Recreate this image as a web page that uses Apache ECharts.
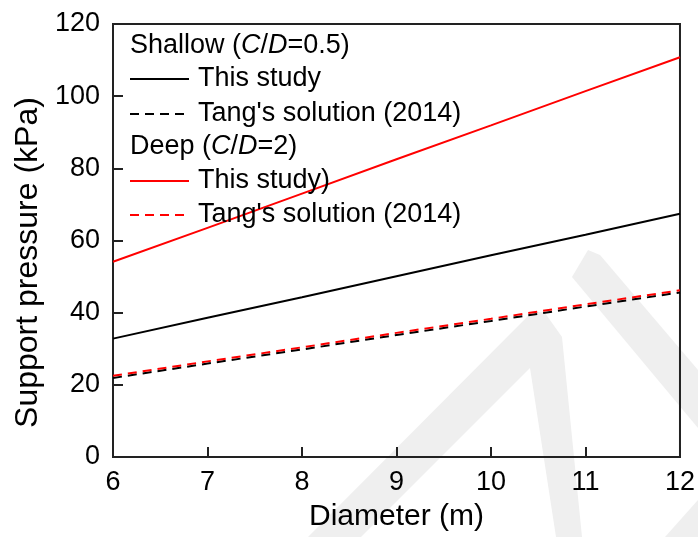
<!DOCTYPE html>
<html>
<head>
<meta charset="utf-8">
<script src="https://cdn.jsdelivr.net/npm/echarts@6/dist/echarts.min.js"></script>
<style>
html,body{margin:0;padding:0;background:#fff;}
#chart{width:698px;height:537px;}
</style>
</head>
<body>
<div id="chart"></div>
<script>
// Data
const diameters = [6, 7, 8, 9, 10, 11, 12];
const shallowThisStudy = [32.8, 38.6, 44.3, 50.1, 55.9, 61.6, 67.4];
const shallowTang = [21.9, 25.9, 29.8, 33.8, 37.7, 41.7, 45.6];
const deepThisStudy = [54.1, 63.5, 73.0, 82.5, 91.9, 101.4, 110.8];
const deepTang = [22.5, 26.5, 30.4, 34.4, 38.3, 42.3, 46.2];
const xTicks = [6, 7, 8, 9, 10, 11, 12];
const yTicks = [0, 20, 40, 60, 80, 100, 120];
const legendLabels = {
  'S1': 'This study',
  'S2': "Tang's solution (2014)",
  'D1': 'This study)',
  'D2': "Tang's solution (2014)"
};

const FONT = 'Liberation Sans';
const pairs = arr => diameters.map((d, i) => [d, arr[i]]);

const chart = echarts.init(document.getElementById('chart'), null, {renderer: 'canvas'});
const dash = [9, 6];
const legendCommon = {
  left: 129, orient: 'vertical', padding: 0,
  itemWidth: 59, itemHeight: 14,
  itemStyle: {opacity: 0, borderWidth: 0},
  formatter: n => legendLabels[n],
  textStyle: {fontFamily: FONT, fontSize: 27, color: '#000', lineHeight: 30, padding: [0, 0, 0, 4]}
};

const option = {
  backgroundColor: '#fff',
  animation: false,
  grid: {left: 113, right: 18, top: 24, bottom: 79, show: true, borderColor: '#222', borderWidth: 2, backgroundColor: 'transparent'},
  xAxis: {
    type: 'value', min: 6, max: 12, interval: 1,
    name: 'Diameter (m)', nameLocation: 'middle', nameGap: 45,
    nameTextStyle: {fontFamily: FONT, fontSize: 30, color: '#000'},
    axisLine: {lineStyle: {color: '#222', width: 2}},
    axisTick: {inside: true, length: 10, lineStyle: {color: '#222', width: 2}},
    axisLabel: {fontFamily: FONT, fontSize: 27, color: '#000', margin: 12,
      formatter: v => xTicks.includes(v) ? String(v) : ''},
    splitLine: {show: false}
  },
  yAxis: {
    type: 'value', min: 0, max: 120, interval: 20,
    name: 'Support pressure (kPa)', nameLocation: 'middle', nameGap: 69,
    nameTextStyle: {fontFamily: FONT, fontSize: 32, color: '#000', padding: [0, 44, 0, 0]},
    axisLine: {show: true, lineStyle: {color: '#222', width: 2}},
    axisTick: {show: true, inside: true, length: 10, lineStyle: {color: '#222', width: 2}},
    axisLabel: {fontFamily: FONT, fontSize: 27, color: '#000', margin: 13,
      formatter: v => yTicks.includes(v) ? String(v) : ''},
    splitLine: {show: false}
  },
  legend: [
    Object.assign({}, legendCommon, {top: 64, itemGap: 5, data: ['S1', 'S2']}),
    Object.assign({}, legendCommon, {top: 166, itemGap: 4, data: ['D1', 'D2']})
  ],
  graphic: [
    {type: 'polygon', z: -10, silent: true,
      shape: {points: [[533,311],[545,313],[562,337],[582,537],[556,537],[530,368],[361,537],[308,537]]},
      style: {fill: '#efefef'}},
    {type: 'polygon', z: -10, silent: true,
      shape: {points: [[588,250],[600,255],[698,370],[698,428],[572,277]]},
      style: {fill: '#efefef'}},
    {type: 'polygon', z: -10, silent: true,
      shape: {points: [[665,537],[698,500],[698,537]]},
      style: {fill: '#efefef'}},
    {type: 'text', left: 130, top: 32, z: 10,
      style: {
        text: '{n|Shallow (}{i|C}{n|/}{i|D}{n|=0.5)}',
        rich: {
          n: {fontFamily: FONT, fontSize: 27, fill: '#000'},
          i: {fontFamily: FONT, fontSize: 27, fontStyle: 'italic', fill: '#000'}
        }
      }},
    {type: 'text', left: 130, top: 133, z: 10,
      style: {
        text: '{n|Deep (}{i|C}{n|/}{i|D}{n|=2)}',
        rich: {
          n: {fontFamily: FONT, fontSize: 27, fill: '#000'},
          i: {fontFamily: FONT, fontSize: 27, fontStyle: 'italic', fill: '#000'}
        }
      }}
  ],
  series: [
    {name: 'S1', type: 'line', data: pairs(shallowThisStudy), showSymbol: false, symbol: 'none',
      lineStyle: {color: '#000', width: 2}, itemStyle: {color: '#000'}},
    {name: 'S2', type: 'line', data: pairs(shallowTang), showSymbol: false, symbol: 'none',
      lineStyle: {color: '#000', width: 2, type: dash}, itemStyle: {color: '#000'}},
    {name: 'D1', type: 'line', data: pairs(deepThisStudy), showSymbol: false, symbol: 'none',
      lineStyle: {color: '#ff0000', width: 2}, itemStyle: {color: '#ff0000'}},
    {name: 'D2', type: 'line', data: pairs(deepTang), showSymbol: false, symbol: 'none',
      lineStyle: {color: '#ff0000', width: 2, type: dash}, itemStyle: {color: '#ff0000'}}
  ]
};
chart.setOption(option);
</script>
</body>
</html>
